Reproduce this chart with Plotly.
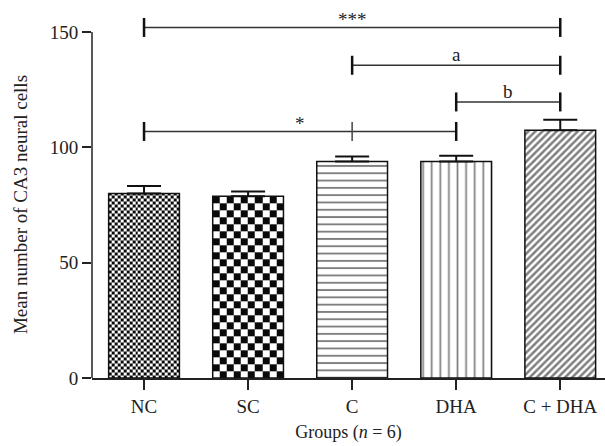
import numpy as np
import plotly.graph_objects as go

# ---------------- data ----------------
groups = ["NC", "SC", "C", "DHA", "C + DHA"]
means = [80.0, 78.8, 93.9, 93.9, 107.4]
errors = [3.2, 2.1, 2.1, 2.5, 4.6]
y_ticks = [0, 50, 100, 150]

# significance brackets
br_left = [0, 2, 3, 0]
br_right = [4, 4, 4, 3]
br_height = [152.0, 135.6, 119.7, 106.9]
br_label = ["***", "a", "b", "*"]
br_mid = [None, None, None, 2]

# ---------------- style / geometry ----------------
W, H = 605, 446
ML, MR, MT, MB = 92, 0, 9, 68
XR = [-0.5, 4.43]
YR = [0, 160]
BAR_W = 0.68
FONT = "Liberation Serif"
FS = 19
TXT = "#222"

xpx = (W - ML - MR) / (XR[1] - XR[0])   # px per x unit
ypx = (H - MT - MB) / (YR[1] - YR[0])   # px per y unit

xs = list(range(len(groups)))
fig = go.Figure()

# checkerboard fills (NC fine, SC coarse)
checker_cell_px = {0: 3.0, 1: 7.0}
for i, cell in checker_cell_px.items():
    left = xs[i] - BAR_W / 2
    right = xs[i] + BAR_W / 2
    ncol = max(1, int(round(BAR_W * xpx / cell)))
    xe = np.linspace(left, right, ncol + 1)
    cy = cell / ypx
    ye = np.arange(0, means[i], cy)
    ye = np.append(ye, means[i])
    nrow = len(ye) - 1
    z = np.fromfunction(lambda r, c: (r + c) % 2, (nrow, ncol))
    fig.add_trace(go.Heatmap(
        x=xe, y=ye, z=z, zmin=0, zmax=1,
        colorscale=[[0, "white"], [1, "#0a0a0a"]],
        showscale=False, zsmooth=False, hoverinfo="skip",
    ))

patterns = [None, None,
            dict(shape="-", size=7.3, solidity=0.26, fgcolor="#000", bgcolor="white"),
            dict(shape="|", size=8.6, solidity=0.2, fgcolor="#000", bgcolor="white"),
            dict(shape="/", size=5.0, solidity=0.5, fgcolor="#000", bgcolor="white")]

for i in range(len(groups)):
    marker = dict(line=dict(color="#111", width=1.5))
    if patterns[i] is None:
        marker["color"] = "rgba(0,0,0,0)"
    else:
        marker["color"] = "white"
        marker["pattern"] = patterns[i]
    fig.add_trace(go.Bar(
        x=[xs[i]], y=[means[i]], width=BAR_W, marker=marker,
        error_y=dict(type="data", symmetric=False, array=[errors[i]], arrayminus=[0],
                     color="#111", thickness=2, width=17),
        showlegend=False, hoverinfo="skip",
    ))

# significance brackets
tick_half = 9.5 / ypx
for l, r, h, lab, m in zip(br_left, br_right, br_height, br_label, br_mid):
    fig.add_shape(type="line", xref="x", yref="y", x0=xs[l], x1=xs[r], y0=h, y1=h,
                  line=dict(color="#333", width=1.5))
    for e in (l, r):
        fig.add_shape(type="line", xref="x", yref="y", x0=xs[e], x1=xs[e],
                      y0=h - tick_half, y1=h + tick_half,
                      line=dict(color="#111", width=2.5))
    if m is not None:
        fig.add_shape(type="line", xref="x", yref="y", x0=xs[m], x1=xs[m],
                      y0=h - tick_half, y1=h + tick_half,
                      line=dict(color="#444", width=1.5))
    fig.add_annotation(x=(xs[l] + xs[r]) / 2, y=h, xref="x", yref="y", text=lab,
                       showarrow=False, yanchor="bottom",
                       yshift=-5 if lab.startswith("*") else -2,
                       font=dict(family=FONT, size=FS, color=TXT))

# y axis line (only up to 150)
fig.add_shape(type="line", xref="paper", yref="y", x0=0, x1=0, y0=0, y1=y_ticks[-1],
              line=dict(color="#222", width=1.5))

# y axis title centred on the drawn axis line
fig.add_annotation(x=0, xref="paper", xshift=-72, xanchor="center",
                   y=y_ticks[-1] / 2, yref="y", yanchor="middle",
                   text="Mean number of CA3 neural cells", textangle=-90, showarrow=False,
                   font=dict(family=FONT, size=FS, color=TXT))

fig.update_layout(
    width=W, height=H,
    margin=dict(l=ML, r=MR, t=MT, b=MB, pad=0),
    paper_bgcolor="white", plot_bgcolor="white",
    font=dict(family=FONT, size=FS, color=TXT),
    showlegend=False, barmode="overlay",
    xaxis=dict(range=XR, tickvals=xs, ticktext=groups, showgrid=False, zeroline=False,
               showline=True, linecolor="#222", linewidth=1.5,
               ticks="outside", ticklen=10, tickwidth=1.5, tickcolor="#222",
               tickfont=dict(family=FONT, size=FS, color=TXT),
               title=dict(text="Groups (<i>n</i> = 6)", standoff=10,
                          font=dict(family=FONT, size=FS - 1, color=TXT))),
    yaxis=dict(range=YR, tickvals=y_ticks, showgrid=False, zeroline=False,
               showline=False, ticks="outside", ticklen=9, tickwidth=1.5, tickcolor="#222",
               tickfont=dict(family=FONT, size=FS, color=TXT)),
)

fig.write_html("out.html")
